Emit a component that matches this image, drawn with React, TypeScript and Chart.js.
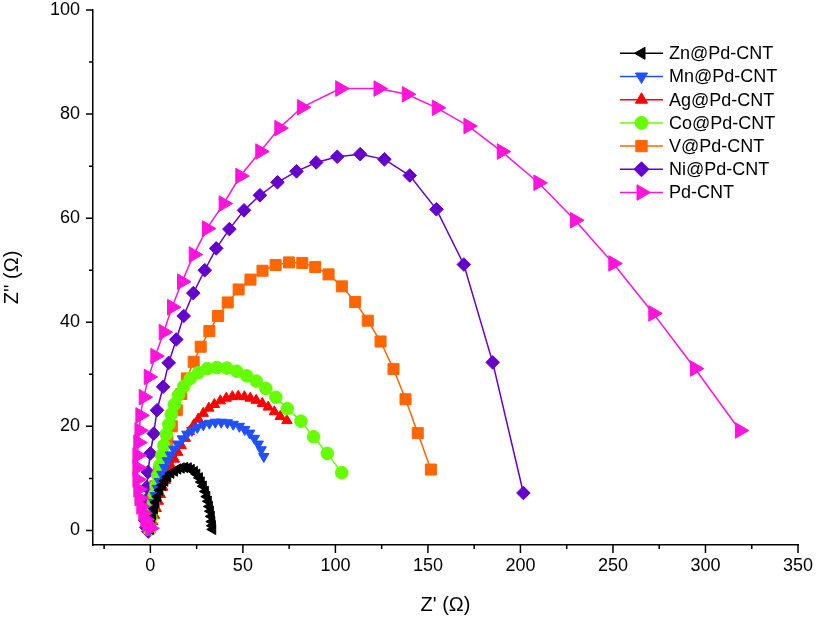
import React, { useEffect, useRef } from 'react';
import { Chart, registerables } from 'chart.js';
import { drawPoint } from 'chart.js/helpers';

Chart.register(...registerables);

// ---- data ----
const seriesNames = ['Zn@Pd-CNT', 'Mn@Pd-CNT', 'Ag@Pd-CNT', 'Co@Pd-CNT', 'V@Pd-CNT', 'Ni@Pd-CNT', 'Pd-CNT'];

const znX = [0, 0.3, 0.8, 1.3, 2.2, 3.0, 4.0, 5.1, 6.5, 7.8, 9.4, 11.1, 13.0, 14.8, 16.7, 18.6, 20.5, 22.1, 23.8, 25.1, 26.5, 27.5, 28.6, 29.7, 30.5, 31.3, 31.9, 32.4, 32.9, 33.2, 33.5, 33.7];
const znY = [0.2, 1.0, 1.9, 3.1, 4.2, 5.4, 6.5, 7.7, 8.7, 9.5, 10.3, 11.0, 11.4, 11.8, 12.0, 12.1, 12.0, 11.7, 11.3, 10.8, 10.1, 9.3, 8.5, 7.5, 6.5, 5.6, 4.6, 3.7, 2.7, 1.7, 0.9, 0.2];

const mnX = [-0.5, -0.3, 0, 0.5, 1.1, 1.9, 2.7, 3.8, 4.9, 6.2, 7.6, 9.2, 10.8, 12.7, 14.8, 17.3, 19.7, 22.4, 25.4, 28.6, 31.9, 35.1, 38.3, 41.6, 44.8, 48.1, 51.0, 53.7, 56.2, 58.3, 59.9, 61.3];
const mnY = [0, 0.8, 1.7, 2.9, 4.0, 5.4, 6.7, 8.1, 9.4, 10.8, 12.1, 13.4, 14.5, 15.6, 16.6, 17.6, 18.5, 19.2, 19.8, 20.3, 20.6, 20.8, 20.8, 20.7, 20.4, 20.0, 19.4, 18.7, 17.7, 16.6, 15.5, 14.2];

const agX = [0.0, 0.5, 1.3, 2.2, 3.2, 4.3, 5.4, 6.7, 8.1, 9.7, 11.3, 13.0, 14.8, 16.7, 18.9, 21.1, 23.5, 25.9, 28.6, 31.6, 34.6, 37.8, 41.0, 44.3, 47.5, 50.8, 54.0, 57.2, 60.5, 63.7, 67.0, 70.2, 73.8];
const agY = [0.2, 0.8, 1.7, 2.9, 4.2, 5.6, 6.9, 8.3, 9.6, 11.0, 12.3, 13.7, 15.0, 16.3, 17.7, 19.0, 20.3, 21.4, 22.5, 23.5, 24.2, 24.9, 25.4, 25.7, 25.8, 25.7, 25.4, 25.0, 24.4, 23.7, 22.8, 21.9, 21.1];

const coX = [-0.5, -0.3, 0.3, 0.8, 1.6, 2.4, 3.2, 4.0, 5.1, 6.2, 7.3, 8.6, 10.0, 11.3, 13.0, 15.1, 18.1, 21.6, 25.9, 30.8, 35.9, 41.3, 46.7, 52.1, 57.2, 62.4, 67.8, 74.0, 81.4, 88.2, 95.6, 103.4];
const coY = [0.2, 1.2, 2.3, 3.7, 5.2, 6.9, 8.7, 10.6, 12.5, 14.4, 16.3, 18.5, 20.4, 22.3, 24.2, 26.0, 27.7, 29.2, 30.3, 31.1, 31.3, 31.2, 30.6, 29.7, 28.7, 27.3, 25.6, 23.4, 21.0, 18.0, 14.8, 11.1];

const vX = [-0.5, -0.3, 0.3, 1.3, 2.7, 4.6, 6.7, 9.2, 11.6, 14.3, 16.7, 19.7, 23.4, 27.2, 31.9, 36.6, 41.8, 47.7, 54.1, 60.6, 67.7, 74.9, 82.1, 89.1, 96.3, 103.5, 110.7, 117.5, 124.4, 131.4, 137.9, 144.5, 151.6];
const vY = [0.4, 1.7, 3.5, 5.8, 8.5, 11.3, 14.2, 17.1, 20.0, 23.1, 26.2, 29.2, 32.4, 35.3, 38.3, 41.2, 43.8, 46.3, 48.2, 49.9, 51.0, 51.5, 51.4, 50.6, 49.2, 46.9, 43.9, 40.3, 36.3, 31.0, 25.2, 18.7, 11.7];

const niX = [-1.1, -2.2, -2.7, -2.7, -2.4, -1.9, -1.3, 0, 1.8, 3.6, 6.9, 9.9, 14.0, 18.0, 23.2, 29.4, 35.6, 42.7, 50.6, 59.2, 68.7, 79.0, 89.6, 101.0, 113.4, 126.5, 140.2, 154.6, 169.4, 185.0, 201.6];
const niY = [-0.2, 0.6, 1.9, 3.7, 5.8, 8.3, 11.2, 14.8, 18.6, 23.1, 27.6, 32.2, 36.7, 41.2, 45.6, 50.0, 54.2, 57.9, 61.5, 64.4, 66.9, 69.0, 70.7, 71.8, 72.3, 71.3, 68.2, 61.7, 51.1, 32.3, 7.2];

const pdX = [0, -1.6, -2.7, -3.8, -4.9, -5.9, -6.5, -7.0, -7.0, -7.0, -6.5, -5.9, -5.4, -3.6, -0.9, 2.7, 7.2, 11.7, 17.1, 23.4, 30.6, 39.6, 48.6, 59.4, 69.7, 81.9, 102.6, 123.3, 138.6, 154.8, 171.9, 189.9, 209.7, 229.5, 250.2, 271.8, 294.3, 318.6];
const pdY = [0.4, 1.2, 2.1, 3.3, 4.6, 6.2, 7.9, 9.8, 12.1, 14.4, 16.9, 19.2, 22.1, 25.6, 29.5, 33.5, 38.1, 42.9, 47.8, 53.0, 58.0, 62.8, 68.1, 72.8, 77.3, 81.3, 84.9, 84.9, 83.8, 81.2, 77.7, 72.8, 66.8, 59.6, 51.3, 41.7, 31.1, 19.2];

const seriesX = [znX, mnX, agX, coX, vX, niX, pdX];
const seriesY = [znY, mnY, agY, coY, vY, niY, pdY];

const xMin = -31;
const xMax = 350;
const xStep = 25;
const xLabelEvery = 50;
const yMin = -2.8;
const yMax = 100;
const yStep = 10;
const yLabelEvery = 20;

// ---- styles ----
const colors = ['#000000', '#2050FF', '#FF0000', '#66FF00', '#FF6600', '#6600CC', '#FF14DC'];
const pointStyles = ['triangle', 'triangle', 'triangle', 'circle', 'rect', 'rectRot', 'triangle'];
const rotations = [-90, 180, 0, 0, 0, 0, 90];
const radii = [6, 6, 6, 6.3, 7.8, 6.8, 9];
const legendRadii = [7, 7, 7, 6.5, 8, 7.5, 9];
const drawOrder = [1, 2, 4, 3, 5, 6, 0];

const FONT = "'Liberation Sans', Arial, sans-serif";

const ticksPlugin = {
  id: 'customTicks',
  afterDraw(chart: any) {
    const { ctx, chartArea, scales } = chart;
    const xs = scales.x;
    const ys = scales.y;
    ctx.save();
    ctx.strokeStyle = '#000';
    ctx.lineWidth = 1.5;
    ctx.beginPath();
    xs.ticks.forEach((t: any) => {
      const px = xs.getPixelForValue(t.value);
      const len = Math.abs(t.value % xLabelEvery) < 1e-6 ? 8 : 4;
      ctx.moveTo(px, chartArea.bottom);
      ctx.lineTo(px, chartArea.bottom + len);
    });
    ys.ticks.forEach((t: any) => {
      const py = ys.getPixelForValue(t.value);
      const len = Math.abs(t.value % yLabelEvery) < 1e-6 ? 7 : 4;
      ctx.moveTo(chartArea.left - len, py);
      ctx.lineTo(chartArea.left, py);
    });
    ctx.stroke();
    ctx.restore();
  },
};

const legendPlugin = {
  id: 'customLegend',
  afterDraw(chart: any) {
    const { ctx } = chart;
    const x0 = 620;
    const x1 = 663;
    const textX = 669;
    const y0 = 53.3;
    const dy = 23.2;
    ctx.save();
    chart.data.datasets.forEach((ds: any, i: number) => {
      const y = y0 + i * dy;
      ctx.strokeStyle = ds.borderColor;
      ctx.lineWidth = 1.5;
      ctx.beginPath();
      ctx.moveTo(x0, y);
      ctx.lineTo(x1, y);
      ctx.stroke();
      ctx.fillStyle = ds.pointBackgroundColor;
      ctx.strokeStyle = ds.pointBorderColor;
      ctx.lineWidth = 1;
      drawPoint(ctx, { pointStyle: ds.pointStyle, radius: legendRadii[i], rotation: ds.pointRotation, borderWidth: 1 }, (x0 + x1) / 2, y);
      ctx.fillStyle = '#000';
      ctx.font = `18px ${FONT}`;
      ctx.textBaseline = 'middle';
      ctx.textAlign = 'left';
      ctx.fillText(ds.label, textX, y + 1);
    });
    ctx.restore();
  },
};

export default function App() {
  const ref = useRef<HTMLCanvasElement | null>(null);

  useEffect(() => {
    document.body.style.margin = '0';
    const canvas = ref.current;
    if (!canvas) return;
    const datasets = seriesNames.map((name, i) => ({
      label: name,
      data: seriesX[i].map((x, j) => ({ x, y: seriesY[i][j] })),
      showLine: true,
      borderColor: colors[i],
      backgroundColor: colors[i],
      borderWidth: 1.5,
      pointStyle: pointStyles[i],
      pointRotation: rotations[i],
      pointRadius: radii[i],
      pointHoverRadius: radii[i],
      pointBackgroundColor: colors[i],
      pointBorderColor: colors[i],
      pointBorderWidth: 1,
      order: drawOrder[i],
      tension: 0,
    }));

    const chart = new Chart(canvas, {
      type: 'scatter',
      data: { datasets },
      plugins: [ticksPlugin, legendPlugin],
      options: {
        animation: false,
        responsive: false,
        devicePixelRatio: 1,
        layout: { padding: { top: 10, right: 29, left: 0, bottom: 0 } },
        plugins: { legend: { display: false }, tooltip: { enabled: false } },
        scales: {
          x: {
            type: 'linear',
            min: xMin,
            max: xMax,
            afterFit: (s: any) => { s.height = 77; s.paddingLeft = 0; s.paddingRight = 0; },
            ticks: {
              stepSize: xStep,
              autoSkip: false,
              includeBounds: false,
              maxRotation: 0,
              padding: 3,
              color: '#000',
              font: { family: FONT, size: 18, lineHeight: 1.1 },
              callback: (v: any) => (Math.abs(Number(v) % xLabelEvery) < 1e-6 ? String(v) : ''),
            },
            grid: { drawOnChartArea: false, drawTicks: true, tickLength: 8, tickColor: 'rgba(0,0,0,0)' },
            border: { display: true, color: '#000', width: 1.5 },
            title: {
              display: true,
              text: "Z' (Ω)",
              color: '#000',
              font: { family: FONT, size: 20, lineHeight: 1.2 },
              padding: { top: 0, bottom: 5 },
            },
          },
          y: {
            type: 'linear',
            min: yMin,
            max: yMax,
            afterFit: (s: any) => { s.width = 93; s.paddingTop = 0; s.paddingBottom = 0; },
            ticks: {
              stepSize: yStep,
              autoSkip: false,
              includeBounds: false,
              padding: 6,
              color: '#000',
              font: { family: FONT, size: 18, lineHeight: 1.1 },
              callback: (v: any) => (Math.abs(Number(v) % yLabelEvery) < 1e-6 ? String(v) : ''),
            },
            grid: { drawOnChartArea: false, drawTicks: true, tickLength: 7, tickColor: 'rgba(0,0,0,0)' },
            border: { display: true, color: '#000', width: 1.5 },
            title: {
              display: true,
              text: "Z'' (Ω)",
              color: '#000',
              font: { family: FONT, size: 20, lineHeight: 1.2 },
              padding: { top: 0, bottom: 0 },
            },
          },
        },
      },
    });
    return () => chart.destroy();
  }, []);

  return (
    <div style={{ width: 827, height: 622, background: '#fff' }}>
      <canvas ref={ref} width={827} height={622} style={{ display: 'block', width: 827, height: 622 }} />
    </div>
  );
}
